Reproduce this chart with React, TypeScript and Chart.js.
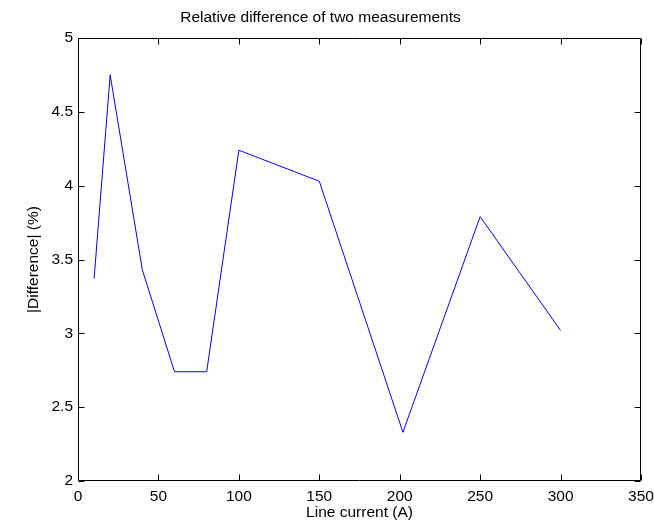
import React, { useEffect, useRef } from "react";
import { Chart, registerables } from "chart.js";

Chart.register(...registerables);

const currents = [10, 20, 40, 60, 80, 100, 150, 202, 250, 300];
const differences = [3.37, 4.75, 3.43, 2.74, 2.74, 4.24, 4.03, 2.33, 3.79, 3.02];
const xTicks = [0, 50, 100, 150, 200, 250, 300, 350];
const yTicks = [2, 2.5, 3, 3.5, 4, 4.5, 5];

const FONT = "'Liberation Sans', Arial, Helvetica, sans-serif";
const FS = 15.5;

const boxPlugin = {
  id: "matlabBox",
  afterDraw(chart: any) {
    const { ctx, chartArea } = chart;
    const xs = chart.scales.x;
    const ys = chart.scales.y;
    const L = Math.round(chartArea.left) + 0.5;
    const R = Math.round(chartArea.right) - 0.5;
    const T = Math.round(chartArea.top) + 0.5;
    const B = Math.round(chartArea.bottom) - 0.5;
    const tl = 6;
    ctx.save();
    ctx.strokeStyle = "#000";
    ctx.lineWidth = 1;
    ctx.beginPath();
    ctx.rect(L, T, R - L, B - T);
    xTicks.forEach((v) => {
      const px = Math.round(xs.getPixelForValue(v)) + 0.5;
      ctx.moveTo(px, B);
      ctx.lineTo(px, B - tl);
      ctx.moveTo(px, T);
      ctx.lineTo(px, T + tl);
    });
    yTicks.forEach((v) => {
      const py = Math.round(ys.getPixelForValue(v)) + 0.5;
      ctx.moveTo(L, py);
      ctx.lineTo(L + tl, py);
      ctx.moveTo(R, py);
      ctx.lineTo(R - tl, py);
    });
    ctx.stroke();
    ctx.restore();
  },
};

export default function App() {
  const canvasRef = useRef<HTMLCanvasElement | null>(null);

  useEffect(() => {
    if (!canvasRef.current) return;
    Chart.defaults.color = "#000";
    Chart.defaults.font.family = FONT;
    const chart = new Chart(canvasRef.current, {
      type: "line",
      data: {
        datasets: [
          {
            data: currents.map((c, i) => ({ x: c, y: differences[i] })),
            borderColor: "rgb(0,0,255)",
            borderWidth: 1,
            pointRadius: 0,
            tension: 0,
            fill: false,
          },
        ],
      },
      plugins: [boxPlugin],
      options: {
        animation: false,
        responsive: false,
        maintainAspectRatio: false,
        layout: { padding: { left: 0, right: 13, top: 0, bottom: 0 } },
        plugins: {
          legend: { display: false },
          tooltip: { enabled: false },
          title: {
            display: true,
            text: "Relative difference of two measurements",
            color: "#000",
            font: { size: FS, weight: "normal", family: FONT, lineHeight: 1.2 },
            padding: { top: 8.5, bottom: 10.9 },
          },
        },
        scales: {
          x: {
            type: "linear",
            min: 0,
            max: 350,
            afterBuildTicks(scale: any) {
              scale.ticks = xTicks.map((v) => ({ value: v }));
            },
            afterFit(scale: any) {
              scale.height = 44;
              scale.paddingLeft = 0;
              scale.paddingRight = 0;
            },
            grid: { display: false, drawTicks: false },
            border: { display: false },
            ticks: {
              autoSkip: false,
              maxRotation: 0,
              padding: 6,
              color: "#000",
              font: { size: FS, family: FONT, lineHeight: 1.2 },
              callback: (v: any) => String(v),
            },
            title: {
              display: true,
              text: "Line current (A)",
              color: "#000",
              font: { size: FS, family: FONT, lineHeight: 1.2 },
              padding: { top: 0, bottom: 3 },
            },
          },
          y: {
            type: "linear",
            min: 2,
            max: 5,
            afterBuildTicks(scale: any) {
              scale.ticks = yTicks.map((v) => ({ value: v }));
            },
            afterFit(scale: any) {
              scale.width = 78;
              scale.paddingTop = 0;
              scale.paddingBottom = 0;
            },
            grid: { display: false, drawTicks: false },
            border: { display: false },
            ticks: {
              autoSkip: false,
              padding: 5,
              color: "#000",
              font: { size: FS, family: FONT, lineHeight: 1.2 },
              callback: (v: any) => String(v),
            },
            title: {
              display: true,
              text: "|Difference| (%)",
              color: "#000",
              font: { size: FS, family: FONT, lineHeight: 1.2 },
              padding: { top: 24, bottom: 0 },
            },
          },
        },
      },
    });
    return () => chart.destroy();
  }, []);

  return (
    <div style={{ position: "absolute", left: 0, top: 0, width: 654, height: 525, background: "#fff" }}>
      <canvas ref={canvasRef} width={654} height={525} style={{ display: "block" }} />
    </div>
  );
}
